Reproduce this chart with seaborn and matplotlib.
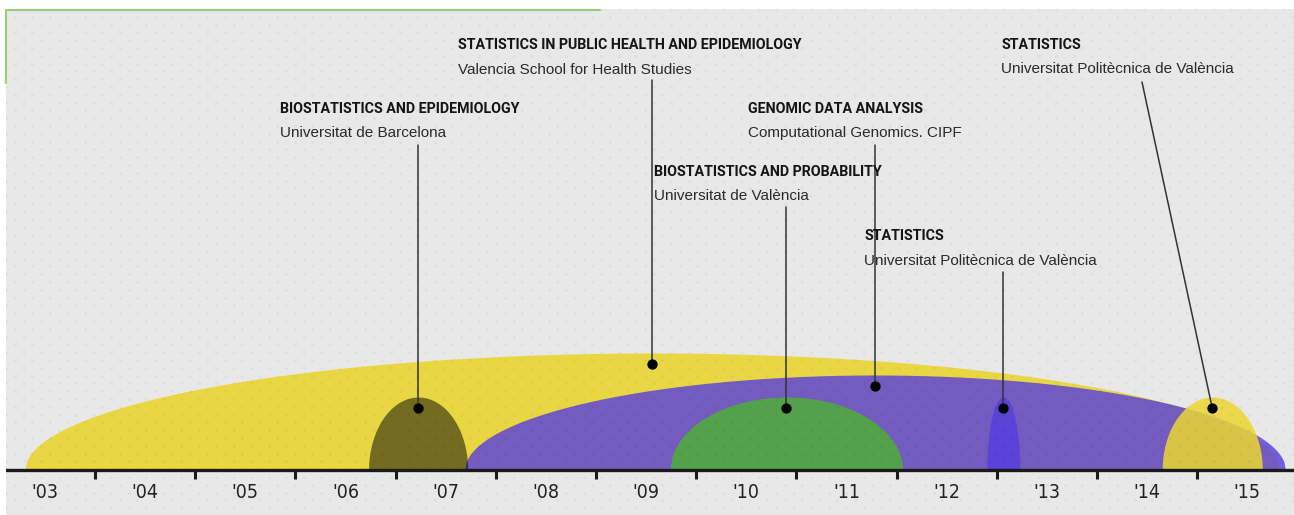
import os
import numpy as np
import pandas as pd
import matplotlib
matplotlib.use("Agg")
import matplotlib.pyplot as plt
import seaborn as sns
from matplotlib.lines import Line2D
from matplotlib import font_manager as fm

# ---------------- data ----------------
programs = ["STATISTICS IN PUBLIC HEALTH AND EPIDEMIOLOGY", "GENOMIC DATA ANALYSIS",
            "BIOSTATISTICS AND EPIDEMIOLOGY", "BIOSTATISTICS AND PROBABILITY",
            "STATISTICS", "STATISTICS"]
institutions = ["Valencia School for Health Studies", "Computational Genomics. CIPF",
                "Universitat de Barcelona", "Universitat de València",
                "Universitat Politècnica de València", "Universitat Politècnica de València"]
start_year = [2003.30, 2007.69, 2006.73, 2009.74, 2012.90, 2014.65]
end_year = [2015.82, 2015.88, 2007.72, 2012.06, 2013.23, 2015.65]
arc_height = [117, 95, 73, 73, 73, 73]
years = list(range(2003, 2016))
year_labels = ["'03", "'04", "'05", "'06", "'07", "'08", "'09", "'10", "'11", "'12", "'13", "'14", "'15"]

# ---------------- layout / style ----------------
arc_colors = ["#E8D742", "#563CDF", "#000000", "#52A447", "#563CDF", "#EBD732"]
arc_alpha = [1.0, 0.8, 0.5, 0.97, 0.8, 0.85]
label_x = [2007.623, 2010.517, 2005.846, 2009.579, 2011.675, 2013.042]
title_y = [421, 357, 357, 294, 230, 421]
sub_y = [396.5, 333, 333, 270, 205, 397]
line_top_x = [None, None, None, None, None, 2014.449]
line_top_y = [390, 325, 325, 263, 198, 388]


def find_narrow_regular():
    best, best_score = None, 99
    for f in fm.fontManager.ttflist:
        fn = os.path.basename(f.fname).lower()
        nm = f.name.lower()
        if f.style != "normal":
            continue
        w = f.weight if isinstance(f.weight, (int, float)) else fm.weight_dict.get(f.weight, 400)
        if w >= 600 or w < 400:
            continue
        if "liberationsansnarrow" in fn or "liberation sans narrow" in nm:
            score = 0
        elif fn.startswith("notosans-condensed"):
            score = 1
        elif "dejavusanscondensed" in fn:
            score = 2
        else:
            continue
        if score < best_score:
            best, best_score = f.fname, score
    return best


reg_narrow = find_narrow_regular()
title_fp = fm.FontProperties(family=["Roboto", "Liberation Sans", "DejaVu Sans"], weight="bold")
tick_fp = fm.FontProperties(fname=reg_narrow) if reg_narrow else fm.FontProperties(family="Liberation Sans")

W, H = 1294, 515
sns.set_theme(style="white")
plt.rcParams["font.family"] = ["Liberation Sans", "DejaVu Sans"]

fig = plt.figure(figsize=(W / 100, H / 100), dpi=100, facecolor="white")
ax = fig.add_axes([6 / W, 0, (W - 6) / W, (H - 9) / H])
ax.set_facecolor("#E8E8E8")
ax.set_xlim(2003.112, 2015.966)
ax.set_ylim(-45, 461)
for s in ax.spines.values():
    s.set_visible(False)
ax.set_xticks([])
ax.set_yticks([])

# background dotted texture
px_w, px_h = W - 6, H - 9
gx = np.arange(0, px_w + 20, 17.5)
gy = np.arange(0, px_h + 10, 7.8)
pts = []
for j, yy in enumerate(gy):
    off = 8.75 if j % 2 else 0
    for xx in gx:
        pts.append(((xx + off) / px_w, 1 - yy / px_h))
pts = np.array(pts)
ax.scatter(pts[:, 0], pts[:, 1], transform=ax.transAxes, s=5, color="black",
           alpha=0.035, linewidths=0, zorder=20)

# semi-elliptical arcs
for i in range(len(programs)):
    c = (start_year[i] + end_year[i]) / 2
    hw = (end_year[i] - start_year[i]) / 2
    xs = np.linspace(start_year[i], end_year[i], 600)
    ys = arc_height[i] * np.sqrt(np.clip(1 - ((xs - c) / hw) ** 2, 0, 1))
    ax.fill_between(xs, 0, ys, color=arc_colors[i], alpha=arc_alpha[i], linewidth=0, zorder=2 + i)

# leader lines and dots
centers = [(s + e) / 2 for s, e in zip(start_year, end_year)]
dot_y = [h - 11 for h in arc_height]
for i in range(len(programs)):
    tx = centers[i] if line_top_x[i] is None else line_top_x[i]
    ax.plot([tx, centers[i]], [line_top_y[i], dot_y[i]], color="#333333", lw=1.1, zorder=15)
df = pd.DataFrame({"x": centers, "y": dot_y})
sns.scatterplot(data=df, x="x", y="y", ax=ax, color="black", s=55, linewidth=0, zorder=16, legend=False)
ax.set_xlabel("")
ax.set_ylabel("")

# text labels
titles = []
for i in range(len(programs)):
    t = ax.text(label_x[i], title_y[i], programs[i], fontproperties=title_fp,
                color="#151515", ha="left", va="baseline", zorder=18)
    t.set_fontsize(12)
    titles.append(t)
    ax.text(label_x[i], sub_y[i], institutions[i], fontsize=11, color="#2a2a2a",
            ha="left", va="baseline", zorder=18)

# timeline axis
ax.axhline(0, color="#1a1a1a", lw=2.4, zorder=17)
ax.vlines([y + 1 for y in years[:-1]], -9, 0, color="#1a1a1a", lw=2.2, zorder=17)
ticks = []
for y, lab in zip(years, year_labels):
    t = ax.text(y + 0.5, -28, lab, fontproperties=tick_fp, color="#222222", ha="center",
                va="baseline", zorder=18)
    t.set_fontsize(14)
    ticks.append(t)

# fit title size to the reference width of the longest title
renderer = fig.canvas.get_renderer()
wt = titles[0].get_window_extent(renderer).width
fs_t = min(12 * 345.0 / wt, 13.0)
for t in titles:
    t.set_fontsize(fs_t)
if reg_narrow:
    wk = ticks[0].get_window_extent(renderer).width
    fs_k = min(14 * 27.0 / wk, 15)
    for t in ticks:
        t.set_fontsize(fs_k)

# green corner accent
fig.add_artist(Line2D([6 / W, 6 / W, 600 / W], [1 - 83 / H, 1 - 9.5 / H, 1 - 9.5 / H],
                      color="#9CCB79", lw=1.5))

fig.savefig("out.png", dpi=100, facecolor="white")
